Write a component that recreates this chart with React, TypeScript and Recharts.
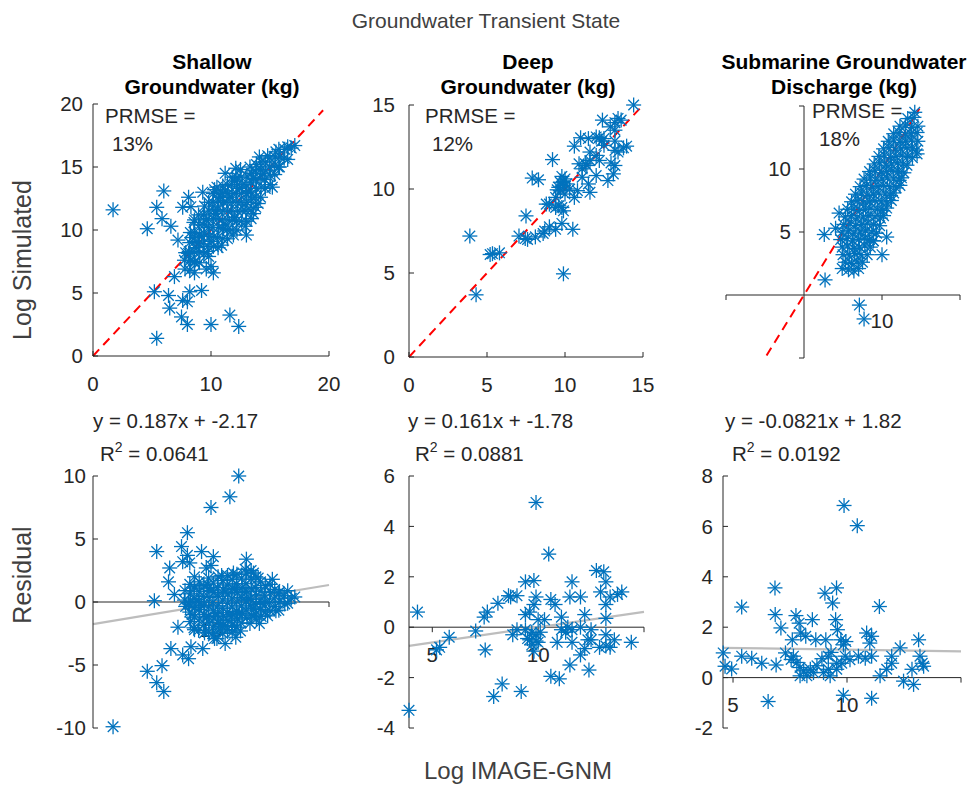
import React from 'react'
import { ScatterChart, Scatter, XAxis, YAxis, ReferenceLine, ReferenceDot } from 'recharts'

const FONT = '"Liberation Sans", Arial, Helvetica, sans-serif'
const BLUE = '#0072BD'
const INK = '#262626'
const FS = 20.5

// [Log IMAGE-GNM, Log Simulated]
const shallowPts: number[][] = [
  [1.7, 11.6], [6.0, 13.1], [5.4, 11.8], [4.6, 10.1], [5.85, 10.9], [6.6, 10.3], [7.6, 11.8], [8.1, 12.6],
  [7.2, 9.2], [8.1, 8.15], [6.9, 6.3], [5.2, 5.1], [6.4, 4.8], [6.5, 3.8], [7.6, 4.4], [8.2, 5.1], [9.2, 5.2],
  [8.0, 4.3], [7.5, 3.1], [8.0, 2.5], [5.4, 1.4], [10.0, 2.5], [11.6, 3.25], [12.35, 2.35], [8.6, 6.6],
  [10.0, 7.1], [10.2, 6.6], [9.6, 6.9], [8.6, 7.4], [13.0, 9.6], [13.4, 10.9], [11.2, 14.5], [12.1, 14.9],
  [16.5, 16.6], [17.1, 16.7], [16.5, 15.6], [15.7, 15.0], [9.3, 13.0], [10.3, 13.2], [8.3, 11.85], [8.6, 10.8],
  [7.8, 6.9], [7.75, 7.6], [7.85, 8.2],
  [8.2, 6.8], [8.25, 7.6], [8.15, 8.3], [8.2, 9.0], [8.25, 9.8],
  [8.6, 7.5], [8.55, 8.3], [8.65, 9.1], [8.6, 9.8], [8.55, 10.6],
  [9.0, 7.4], [9.05, 8.2], [8.95, 8.9], [9.0, 9.6], [9.05, 10.4], [8.95, 11.2],
  [9.4, 8.1], [9.35, 8.9], [9.45, 9.7], [9.4, 10.4], [9.35, 11.2], [9.45, 11.9],
  [9.8, 7.9], [9.75, 8.7], [9.85, 9.5], [9.8, 10.2], [9.75, 10.9], [9.85, 11.5], [9.8, 12.2],
  [10.2, 8.7], [10.25, 9.5], [10.15, 10.2], [10.2, 10.9], [10.25, 11.6], [10.15, 12.2], [10.2, 12.9],
  [10.6, 8.6], [10.55, 9.4], [10.65, 10.2], [10.6, 10.9], [10.55, 11.6], [10.65, 12.3], [10.6, 12.9],
  [11.0, 9.3], [11.05, 10.1], [10.95, 10.8], [11.0, 11.5], [11.05, 12.2], [10.95, 12.9], [11.0, 13.5],
  [11.4, 9.3], [11.35, 10.0], [11.45, 10.8], [11.4, 11.5], [11.35, 12.2], [11.45, 12.9], [11.4, 13.6],
  [11.8, 10.0], [11.85, 10.8], [11.75, 11.5], [11.8, 12.2], [11.85, 12.9], [11.75, 13.6], [11.8, 14.2],
  [12.2, 10.0], [12.15, 10.7], [12.25, 11.5], [12.2, 12.2], [12.15, 12.9], [12.25, 13.6], [12.2, 14.2],
  [12.6, 10.7], [12.65, 11.5], [12.55, 12.2], [12.6, 12.9], [12.65, 13.6], [12.55, 14.2],
  [13.0, 10.7], [12.95, 11.5], [13.05, 12.2], [13.0, 12.9], [12.95, 13.6], [13.05, 14.3],
  [13.4, 11.6], [13.45, 12.4], [13.35, 13.1], [13.4, 13.8], [13.45, 14.5],
  [13.8, 11.8], [13.75, 12.6], [13.85, 13.3], [13.8, 14.0], [13.75, 14.7], [13.85, 15.2],
  [14.2, 12.6], [14.25, 13.4], [14.15, 14.1], [14.2, 14.8], [14.25, 15.4],
  [14.6, 13.3], [14.55, 14.0], [14.65, 14.7], [14.6, 15.4],
  [15.0, 13.6], [15.05, 14.3], [14.95, 15.0], [15.0, 15.7],
  [15.4, 14.4], [15.35, 15.1], [15.45, 15.8],
  [15.8, 15.0], [15.85, 15.8], [15.75, 16.4],
  [16.2, 15.7], [16.25, 16.4], [16.8, 16.5],
  [10.0, 9.1], [10.4, 11.3], [10.8, 12.6], [11.2, 10.4], [11.6, 12.6], [12.0, 11.0], [12.4, 13.3],
  [12.8, 12.0], [13.2, 13.0], [13.6, 14.1], [12.0, 13.9], [11.2, 13.1], [9.6, 10.8], [9.2, 9.5],
  [8.8, 8.6], [14.4, 14.5], [14.8, 15.9], [13.6, 11.3], [12.9, 10.3], [11.9, 9.6], [14.0, 12.1],
  [15.2, 13.4], [10.9, 8.8], [9.7, 8.3], [8.4, 9.4], [10.5, 13.4], [12.5, 14.8], [13.3, 15.0],
  [14.1, 15.8], [15.5, 16.2],
]

const deepPts: number[][] = [
  [3.9, 7.2], [4.3, 3.7], [5.2, 6.1], [5.35, 6.15], [5.8, 6.2], [7.05, 7.2], [7.5, 8.4], [7.6, 7.0],
  [7.45, 7.05], [8.1, 7.15], [7.9, 10.65], [8.3, 10.55], [9.2, 11.75], [8.7, 7.5], [9.0, 7.75], [9.4, 7.6],
  [9.8, 7.95], [9.9, 4.95], [10.5, 7.6], [9.9, 8.7], [10.6, 9.5], [11.6, 9.8], [11.5, 10.3], [12.0, 10.8],
  [10.8, 9.9], [11.1, 10.7], [12.2, 11.7], [12.75, 10.5], [13.1, 10.9], [13.2, 11.4], [12.95, 11.55],
  [13.75, 12.45], [13.95, 12.55], [13.4, 12.2], [13.2, 12.3], [13.2, 12.85], [14.4, 15.0], [13.2, 13.95],
  [12.9, 13.7], [12.35, 12.85], [12.2, 13.05], [12.0, 13.1], [12.4, 14.1], [11.5, 13.0], [10.6, 12.55],
  [11.0, 13.05], [10.9, 11.5], [11.4, 11.4], [11.6, 11.7], [11.3, 11.5], [11.1, 11.2], [12.5, 12.6],
  [10.3, 10.0], [9.5, 9.95], [9.7, 10.4], [9.8, 10.75], [10.0, 10.6], [9.4, 9.5], [9.7, 9.9], [9.6, 9.0],
  [9.8, 8.9], [9.4, 8.9], [10.0, 9.7], [9.0, 9.1], [8.8, 9.1], [8.6, 7.35], [11.6, 12.2], [12.5, 13.0],
  [13.2, 13.5], [12.0, 12.0], [13.6, 14.1], [13.4, 14.2], [9.9, 10.2], [10.1, 10.3], [9.6, 10.1], [9.9, 10.45],
]

const sgdPts: number[][] = [
  [14.2, 14.5], [2.6, 4.8], [2.7, 1.2], [4.5, 6.5], [4.05, 5.3], [4.9, 2.1], [7.1, -0.8], [7.7, -1.9],
  [10.0, 3.2], [10.6, 4.6], [8.9, 4.3], [12.3, 8.7], [14.5, 11.2],
  [5.7, 2.0], [6.4, 1.9], [7.0, 2.1],
  [5.3, 2.6], [6.1, 2.5], [6.8, 2.7], [7.5, 2.6],
  [5.0, 3.2], [5.8, 3.1], [6.5, 3.3], [7.3, 3.2], [8.1, 3.2],
  [4.9, 3.8], [5.6, 3.9], [6.4, 3.7], [7.1, 3.8], [7.8, 3.9], [8.5, 3.8],
  [4.7, 4.4], [5.5, 4.5], [6.2, 4.3], [7.0, 4.4], [7.7, 4.5], [8.4, 4.4], [8.9, 4.3],
  [4.9, 5.0], [5.7, 5.1], [6.4, 4.9], [7.2, 5.0], [7.9, 5.1], [8.7, 5.0], [9.3, 4.9],
  [5.1, 5.6], [5.9, 5.7], [6.6, 5.5], [7.4, 5.6], [8.1, 5.7], [8.9, 5.6], [9.7, 5.5],
  [5.3, 6.2], [6.1, 6.3], [6.8, 6.1], [7.6, 6.2], [8.3, 6.3], [9.1, 6.2], [9.8, 6.1], [10.2, 6.3],
  [5.6, 6.8], [6.4, 6.9], [7.1, 6.7], [7.9, 6.8], [8.6, 6.9], [9.4, 6.8], [10.1, 6.7], [10.6, 6.9],
  [6.1, 7.4], [6.9, 7.5], [7.6, 7.3], [8.4, 7.4], [9.1, 7.5], [9.9, 7.4], [10.6, 7.3], [11.2, 7.5],
  [6.6, 8.0], [7.4, 8.1], [8.1, 7.9], [8.9, 8.0], [9.6, 8.1], [10.4, 8.0], [11.1, 7.9], [11.5, 8.1],
  [7.2, 8.6], [8.0, 8.7], [8.7, 8.5], [9.5, 8.6], [10.2, 8.7], [11.0, 8.6], [11.8, 8.5],
  [7.7, 9.2], [8.5, 9.3], [9.2, 9.1], [10.0, 9.2], [10.7, 9.3], [11.5, 9.2], [12.2, 9.1], [12.5, 9.3],
  [8.4, 9.8], [9.1, 9.9], [9.9, 9.7], [10.6, 9.8], [11.4, 9.9], [12.1, 9.8], [12.8, 9.7],
  [9.0, 10.4], [9.7, 10.5], [10.5, 10.3], [11.2, 10.4], [12.0, 10.5], [12.7, 10.4], [13.2, 10.3],
  [9.6, 11.0], [10.3, 11.1], [11.1, 10.9], [11.8, 11.0], [12.6, 11.1], [13.3, 11.0], [13.9, 10.9],
  [10.2, 11.6], [10.9, 11.7], [11.7, 11.5], [12.4, 11.6], [13.2, 11.7], [13.9, 11.6], [14.4, 11.5],
  [10.8, 12.2], [11.5, 12.3], [12.3, 12.1], [13.0, 12.2], [13.8, 12.3], [14.6, 12.2],
  [11.5, 12.8], [12.2, 12.9], [13.0, 12.7], [13.7, 12.8], [14.5, 12.9],
  [12.3, 13.4], [13.0, 13.5], [13.8, 13.3], [14.6, 13.4],
  [13.3, 14.0], [14.1, 14.1],
]

// [Log IMAGE-GNM, residual]
const sgdResidualPts: number[][] = [
  [9.87, 6.83], [10.45, 6.03], [6.84, 3.56], [9.54, 3.56], [9.03, 3.35], [9.37, 2.96], [5.38, 2.8],
  [11.42, 2.82], [6.85, 2.5], [7.1, 1.97], [7.76, 2.46], [7.9, 2.16], [8.48, 2.3], [9.5, 2.3], [9.58, 1.9],
  [10.86, 1.77], [11.08, 1.64], [11.0, 1.37], [9.73, 1.5], [9.95, 1.43], [9.84, 1.3], [8.19, 1.64],
  [7.6, 1.5], [8.63, 1.5], [9.07, 1.5], [7.97, 1.77], [4.57, 0.98], [4.65, 0.45], [4.94, 0.34],
  [5.38, 0.85], [5.82, 0.77], [6.26, 0.57], [6.89, 0.5], [7.65, 0.85], [7.8, 0.6], [7.94, 0.4],
  [8.1, 0.27], [8.24, 0.07], [8.39, 0.33], [7.94, 0.07], [8.53, 0.2], [8.68, 0.47], [8.97, 0.2],
  [9.18, 0.85], [9.18, 0.33], [9.26, 0.07], [9.55, 0.33], [9.77, 0.57], [9.92, 0.85], [10.13, 0.71],
  [10.5, 0.85], [10.8, 0.77], [11.08, 0.85], [11.45, 0.07], [11.74, 0.33], [11.96, 0.57], [11.96, 0.85],
  [12.33, 1.18], [12.48, -0.14], [12.92, -0.27], [12.85, 0.33], [13.14, 1.5], [13.2, 0.85], [13.3, 0.57],
  [13.36, 0.45], [9.84, -0.7], [11.08, -0.82], [6.54, -0.95], [7.3, 0.98], [7.55, 0.72], [9.55, 0.57],
  [9.3, 1.0], [8.9, 0.75],
]

// 1:1 lines and residual trend lines, as end points
const shallowOneToOne = [{ x: 0, y: 0 }, { x: 19.5, y: 19.5 }]
const deepOneToOne = [{ x: 0, y: 0 }, { x: 14.8, y: 14.8 }]
const sgdOneToOne = [{ x: -4.8, y: -4.8 }, { x: 14.8, y: 14.8 }]
const shallowTrend = [{ x: 0, y: -1.75 }, { x: 20, y: 1.35 }]
const deepTrend = [{ x: 3.9, y: -0.74 }, { x: 15, y: 0.61 }]
const sgdTrend = [{ x: 4.56, y: 1.18 }, { x: 15, y: 1.04 }]

const panelTitles = [['Shallow', 'Groundwater (kg)'], ['Deep', 'Groundwater (kg)'], ['Submarine Groundwater', 'Discharge (kg)']]
const prmse = ['13%', '12%', '18%']
const fitText = ['y = 0.187x + -2.17', 'y = 0.161x + -1.78', 'y = -0.0821x + 1.82']
const r2Text = ['0.0641', '0.0881', '0.0192']

const toXY = (pts: number[][]) => pts.map(([x, y]) => ({ x, y }))
const toResid = (pts: number[][]) => pts.map(([x, y]) => ({ x, y: x - y }))

type Box = { left: number; top: number; w: number; h: number }
const PAD = { l: 60, t: 14, r: 16, b: 46 }
const Y_W = 50
const X_H = 36

function Star(props: any) {
  const { cx, cy } = props
  if (cx == null || cy == null) return null
  const r = 7.5
  const d = 5.3
  return (
    <g stroke={BLUE} strokeWidth={1.3}>
      <line x1={cx - r} y1={cy} x2={cx + r} y2={cy} />
      <line x1={cx} y1={cy - r} x2={cx} y2={cy + r} />
      <line x1={cx - d} y1={cy - d} x2={cx + d} y2={cy + d} />
      <line x1={cx - d} y1={cy + d} x2={cx + d} y2={cy - d} />
    </g>
  )
}

const leftTick = (p: any) => (
  <text x={p.x} y={p.y} dy="0.35em" textAnchor="end" fontSize={FS} fontFamily={FONT} fill={INK}>
    {p.payload.value}
  </text>
)
const bottomTick = (p: any) => (
  <text x={p.x} y={p.y} dy="0.72em" textAnchor="middle" fontSize={FS} fontFamily={FONT} fill={INK}>
    {p.payload.value}
  </text>
)

// tick marks for axes drawn through the origin
const xMark = (label?: string, drop = 20) => (p: any) => (
  <g>
    <line x1={p.cx} y1={p.cy} x2={p.cx} y2={p.cy + 5} stroke={INK} />
    {label ? (
      <text x={p.cx} y={p.cy + drop} dy="0.72em" textAnchor="middle" fontSize={FS} fontFamily={FONT} fill={INK}>
        {label}
      </text>
    ) : null}
  </g>
)
const yMark = (label?: string, gap = 13) => (p: any) => (
  <g>
    <line x1={p.cx - 5} y1={p.cy} x2={p.cx} y2={p.cy} stroke={INK} />
    {label ? (
      <text x={p.cx - gap} y={p.cy} dy="0.35em" textAnchor="end" fontSize={FS} fontFamily={FONT} fill={INK}>
        {label}
      </text>
    ) : null}
  </g>
)

function Panel({ box, yAxis, xAxis, children }: { box: Box; yAxis: boolean; xAxis: boolean; children: React.ReactNode }) {
  const margin = {
    top: PAD.t,
    right: PAD.r,
    left: yAxis ? PAD.l - Y_W : PAD.l,
    bottom: xAxis ? PAD.b - X_H : PAD.b,
  }
  return (
    <div style={{ position: 'absolute', left: box.left - PAD.l, top: box.top - PAD.t }}>
      <ScatterChart width={PAD.l + box.w + PAD.r} height={PAD.t + box.h + PAD.b} margin={margin}>
        {children}
      </ScatterChart>
    </div>
  )
}

const dashed = { stroke: '#FF0000', strokeWidth: 2, strokeDasharray: '9 6' }
const trend = { stroke: '#BDBDBD', strokeWidth: 2.2 }

function Texts() {
  const t = { fontFamily: FONT, fill: INK, fontSize: FS }
  const titleX = [212, 528, 844]
  const prmseX = [105, 425, 812]
  const prmseY = [123, 123, 118]
  const fitX = [93, 408, 725]
  return (
    <svg width={971} height={787} style={{ position: 'absolute', left: 0, top: 0, pointerEvents: 'none' }}>
      <text x={486} y={28} textAnchor="middle" fontFamily={FONT} fontSize={21} fill="#404040">
        Groundwater Transient State
      </text>
      {panelTitles.map((lines, i) => (
        <g key={i} fontFamily={FONT} fontSize={21} fontWeight="bold" fill="#000" textAnchor="middle">
          <text x={titleX[i]} y={69}>{lines[0]}</text>
          <text x={titleX[i]} y={94}>{lines[1]}</text>
        </g>
      ))}
      {prmse.map((p, i) => (
        <g key={i} {...t}>
          <text x={prmseX[i]} y={prmseY[i]}>PRMSE =</text>
          <text x={prmseX[i] + 7} y={prmseY[i] + 28}>{p}</text>
        </g>
      ))}
      {fitText.map((f, i) => (
        <g key={i} {...t}>
          <text x={fitX[i]} y={428}>{f}</text>
          <text x={fitX[i] + 7} y={461}>
            R<tspan dy={-9} fontSize={14}>2</tspan>
            <tspan dy={9}> = {r2Text[i]}</tspan>
          </text>
        </g>
      ))}
      <text transform="translate(31,260) rotate(-90)" textAnchor="middle" fontFamily={FONT} fontSize={25} fill="#404040">
        Log Simulated
      </text>
      <text transform="translate(31,575) rotate(-90)" textAnchor="middle" fontFamily={FONT} fontSize={25} fill="#404040">
        Residual
      </text>
      <text x={518} y={779} textAnchor="middle" fontFamily={FONT} fontSize={24} fill="#404040">
        Log IMAGE-GNM
      </text>
    </svg>
  )
}

export default function App() {
  const p1: Box = { left: 93, top: 104, w: 236, h: 252 }
  const p2: Box = { left: 409, top: 105, w: 234, h: 252 }
  const p3: Box = { left: 726, top: 106, w: 234, h: 252 }
  const p4: Box = { left: 93, top: 476, w: 236, h: 252 }
  const p5: Box = { left: 409, top: 476, w: 235, h: 252 }
  const p6: Box = { left: 723, top: 476, w: 238, h: 252 }
  const axisLine = { stroke: INK, strokeWidth: 1 }

  return (
    <div style={{ position: 'absolute', left: 0, top: 0, width: 971, height: 787, background: '#fff', fontFamily: FONT }}>
      <Panel box={p1} yAxis xAxis>
        <XAxis type="number" dataKey="x" domain={[0, 20]} ticks={[0, 10, 20]} interval={0} height={X_H}
          tickSize={-5} tickMargin={25} axisLine={axisLine} tickLine={axisLine} tick={bottomTick} />
        <YAxis type="number" dataKey="y" domain={[0, 20]} ticks={[0, 5, 10, 15, 20]} interval={0} width={Y_W}
          tickSize={-5} tickMargin={15} axisLine={axisLine} tickLine={axisLine} tick={leftTick} />
        <Scatter data={toXY(shallowPts)} shape={Star} isAnimationActive={false} />
        <ReferenceLine segment={shallowOneToOne} {...dashed} />
      </Panel>

      <Panel box={p2} yAxis xAxis>
        <XAxis type="number" dataKey="x" domain={[0, 15]} ticks={[0, 5, 10, 15]} interval={0} height={X_H}
          tickSize={-5} tickMargin={25} axisLine={axisLine} tickLine={axisLine} tick={bottomTick} />
        <YAxis type="number" dataKey="y" domain={[0, 15]} ticks={[0, 5, 10, 15]} interval={0} width={Y_W}
          tickSize={-5} tickMargin={19} axisLine={axisLine} tickLine={axisLine} tick={leftTick} />
        <Scatter data={toXY(deepPts)} shape={Star} isAnimationActive={false} />
        <ReferenceLine segment={deepOneToOne} {...dashed} />
      </Panel>

      <Panel box={p3} yAxis={false} xAxis={false}>
        <XAxis type="number" dataKey="x" domain={[-10, 20]} hide />
        <YAxis type="number" dataKey="y" domain={[-5, 15]} hide />
        <ReferenceLine y={0} stroke={INK} />
        <ReferenceLine x={0} stroke={INK} />
        <ReferenceDot x={-10} y={0} r={0} shape={xMark()} ifOverflow="visible" />
        <ReferenceDot x={20} y={0} r={0} shape={xMark()} ifOverflow="visible" />
        <ReferenceDot x={0} y={-5} r={0} shape={yMark()} ifOverflow="visible" />
        <ReferenceDot x={0} y={5} r={0} shape={yMark('5')} ifOverflow="visible" />
        <ReferenceDot x={0} y={10} r={0} shape={yMark('10')} ifOverflow="visible" />
        <ReferenceDot x={0} y={15} r={0} shape={yMark()} ifOverflow="visible" />
        <Scatter data={toXY(sgdPts)} shape={Star} isAnimationActive={false} />
        <ReferenceDot x={10} y={0} r={0} shape={xMark('10', 18)} ifOverflow="visible" />
        <ReferenceLine segment={sgdOneToOne} {...dashed} />
      </Panel>

      <Panel box={p4} yAxis xAxis={false}>
        <XAxis type="number" dataKey="x" domain={[0, 20]} hide />
        <YAxis type="number" dataKey="y" domain={[-10, 10]} ticks={[-10, -5, 0, 5, 10]} interval={0} width={Y_W}
          tickSize={-5} tickMargin={12} axisLine={axisLine} tickLine={axisLine} tick={leftTick} />
        <ReferenceLine y={0} stroke={INK} />
        <ReferenceDot x={10} y={0} r={0} shape={xMark('10')} ifOverflow="visible" />
        <ReferenceDot x={20} y={0} r={0} shape={xMark()} ifOverflow="visible" />
        <Scatter data={toResid(shallowPts)} shape={Star} isAnimationActive={false} />
        <ReferenceLine segment={shallowTrend} {...trend} />
      </Panel>

      <Panel box={p5} yAxis xAxis={false}>
        <XAxis type="number" dataKey="x" domain={[3.9, 15]} hide />
        <YAxis type="number" dataKey="y" domain={[-4, 6]} ticks={[-4, -2, 0, 2, 4, 6]} interval={0} width={Y_W}
          tickSize={-5} tickMargin={19} axisLine={axisLine} tickLine={axisLine} tick={leftTick} />
        <ReferenceLine y={0} stroke={INK} />
        <ReferenceDot x={5} y={0} r={0} shape={xMark('5')} ifOverflow="visible" />
        <ReferenceDot x={10} y={0} r={0} shape={xMark('10')} ifOverflow="visible" />
        <ReferenceDot x={15} y={0} r={0} shape={xMark()} ifOverflow="visible" />
        <Scatter data={toResid(deepPts)} shape={Star} isAnimationActive={false} />
        <ReferenceLine segment={deepTrend} {...trend} />
      </Panel>

      <Panel box={p6} yAxis xAxis={false}>
        <XAxis type="number" dataKey="x" domain={[4.56, 15]} hide />
        <YAxis type="number" dataKey="y" domain={[-2, 8]} ticks={[-2, 0, 2, 4, 6, 8]} interval={0} width={Y_W}
          tickSize={-5} tickMargin={15} axisLine={axisLine} tickLine={axisLine} tick={leftTick} />
        <ReferenceLine y={0} stroke={INK} />
        <ReferenceDot x={5} y={0} r={0} shape={xMark('5')} ifOverflow="visible" />
        <ReferenceDot x={10} y={0} r={0} shape={xMark('10')} ifOverflow="visible" />
        <ReferenceDot x={15} y={0} r={0} shape={xMark()} ifOverflow="visible" />
        <Scatter data={toXY(sgdResidualPts)} shape={Star} isAnimationActive={false} />
        <ReferenceLine segment={sgdTrend} {...trend} />
      </Panel>

      <Texts />
    </div>
  )
}
